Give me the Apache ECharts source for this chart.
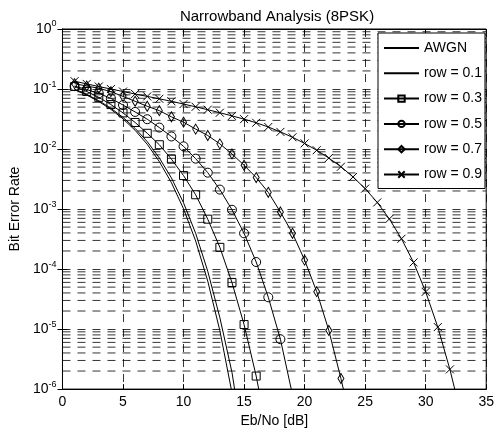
<!DOCTYPE html>
<html><head><meta charset="utf-8">
<script src="https://cdn.jsdelivr.net/npm/echarts@6/dist/echarts.min.js"></script>
<style>html,body{margin:0;padding:0;background:#fff}#c{width:497px;height:433px}</style>
</head><body><div id="c"></div>
<script>
// Eb/No sample points [dB]
const ebNo = [1,2,3,4,5,6,7,8,9,10,11,12,13,14,15,16,17,18,19,20,21,22,23,24,25,26,27,28,29,30,31,32,33];
// X axis ticks and Y axis decade exponents
const xTicks = [0,5,10,15,20,25,30,35];
const yExponents = [0,-1,-2,-3,-4,-5,-6];
// Series names
const seriesNames = ['AWGN','row = 0.1','row = 0.3','row = 0.5','row = 0.7','row = 0.9'];
// Bit error rates
const awgn  = [0.0975,0.0794,0.0619,0.0458,0.0319,0.0205,0.0120,0.00618,0.00275,0.00101,0.000294,6.3e-5,9.4e-6,8.7e-7];
const row01 = [0.099,0.0815,0.064,0.0478,0.0337,0.0221,0.0133,0.0071,0.0033,0.00127,0.000395,9.2e-5,1.55e-5,1.9e-6,1e-7];
const row03 = [0.110,0.0910,0.0726,0.0551,0.0400,0.0277,0.0183,0.0118,0.00678,0.00361,0.00173,0.000678,0.000230,5.96e-5,1.19e-5,1.65e-6,1.5e-7];
const row05 = [0.112,0.0981,0.0844,0.0699,0.0541,0.0415,0.0314,0.0228,0.0162,0.0111,0.00691,0.00404,0.00211,0.000974,0.000394,0.000131,3.39e-5,6.78e-6,8e-7];
const row07 = [0.123,0.112,0.103,0.0903,0.0754,0.0624,0.0516,0.0436,0.0344,0.0280,0.0215,0.0168,0.0122,0.00828,0.00537,0.00335,0.00190,0.000893,0.000394,0.000141,4.2e-5,9.5e-6,1.5e-6,2e-7];
const row09 = [0.135,0.1216,0.110,0.100,0.0908,0.0826,0.0753,0.0687,0.0624,0.0562,0.0505,0.0452,0.0403,0.0357,0.0315,0.0274,0.0233,0.0193,0.0157,0.0124,0.00955,0.00708,0.00507,0.00343,0.00219,0.00129,0.000684,0.00032,0.000129,4.17e-5,1.08e-5,2.13e-6,3.2e-7];

const FONT = 'Liberation Sans, Arial, Helvetica, sans-serif';
const GRID_LINE = {color:'#000', type:[8,7], width:0.8};
function pairs(ys){ return ys.map((y,i)=>[ebNo[i], y]); }

const markerStyle = {color:'transparent', borderColor:'#000', borderWidth:1};
const noMarkerStyle = {color:'transparent', borderColor:'transparent', borderWidth:0};
const lineStyle = {color:'#000', width:1};

function mk(name, ys, symbol, size){
  return {
    name, type:'line', data: pairs(ys),
    symbol: symbol || 'none', symbolSize: size || 4, showSymbol: !!symbol,
    lineStyle, itemStyle: symbol ? markerStyle : noMarkerStyle,
    clip: true, animation:false, z: 3, silent:true
  };
}

const series = [
  mk(seriesNames[0], awgn),
  mk(seriesNames[1], row01),
  mk(seriesNames[2], row03, 'rect', 8),
  mk(seriesNames[3], row05, 'circle', 9),
  mk(seriesNames[4], row07, 'diamond', [6,10]),
  mk(seriesNames[5], row09, 'path://M0,0L10,10M10,0L0,10', 8)
];

// minor horizontal grid lines (2..9 x 10^k), drawn across the x range
const xMin = xTicks[0], xMax = xTicks[xTicks.length-1];
for (let k = 0; k < 6; k++) {
  for (let m = 2; m <= 9; m++) {
    const v = m * Math.pow(10, -(k+1));
    series.push({
      name:'grid'+k+'_'+m, type:'line', data:[[xMin, v],[xMax, v]],
      symbol:'none', lineStyle:GRID_LINE, silent:true, z:1, animation:false
    });
  }
}

const option = {
  backgroundColor:'#fff',
  animation:false,
  title:{text:'Narrowband Analysis (8PSK)', left:272, top:4, textAlign:'center',
    textStyle:{fontFamily:FONT, fontSize:15, fontWeight:'normal', color:'#000'}},
  grid:{left:55, right:8, top:29, bottom:38, show:true, borderColor:'#000', borderWidth:1, backgroundColor:'transparent'},
  legend:{
    orient:'vertical', left:378, top:33, data: seriesNames,
    itemWidth:35, itemHeight:8, itemGap:11.3, padding:[8,3,7,5],
    backgroundColor:'#fff', borderColor:'#000', borderWidth:1,
    textStyle:{fontFamily:FONT, fontSize:14, color:'#000'},
    selectedMode:false, z:10
  },
  xAxis:[{
    type:'value', min:xMin, max:xMax, interval:5,
    name:'Eb/No [dB]', nameLocation:'middle', nameGap:22,
    nameTextStyle:{fontFamily:FONT, fontSize:14, color:'#000'},
    axisLine:{lineStyle:{color:'#000'}},
    axisTick:{inside:true, length:5, lineStyle:{color:'#000'}},
    axisLabel:{fontFamily:FONT, fontSize:14, color:'#000', margin:6},
    splitLine:{show:true, lineStyle:GRID_LINE}
  },{
    type:'value', position:'top', min:xMin, max:xMax, interval:5,
    axisLine:{lineStyle:{color:'#000'}},
    axisTick:{inside:true, length:5, lineStyle:{color:'#000'}},
    axisLabel:{show:false}, splitLine:{show:false}
  }],
  yAxis:[{
    type:'log', logBase:10, min:1e-6, max:1,
    name:'Bit Error Rate', nameLocation:'middle', nameGap:38, nameRotate:90,
    nameTextStyle:{fontFamily:FONT, fontSize:14, color:'#000'},
    axisLine:{lineStyle:{color:'#000'}},
    axisTick:{inside:true, length:5, lineStyle:{color:'#000'}},
    axisLabel:{
      margin:6,
      formatter:(v)=>{ const e = Math.round(Math.log10(v)); return yExponents.includes(e) ? '{b|10}{e|'+e+'}' : ''; },
      rich:{
        b:{fontFamily:FONT, fontSize:14, color:'#000'},
        e:{fontFamily:FONT, fontSize:9, color:'#000', padding:[0,0,10,0]}
      }
    },
    splitLine:{show:true, lineStyle:GRID_LINE}
  },{
    type:'log', logBase:10, min:1e-6, max:1, position:'right',
    axisLine:{lineStyle:{color:'#000'}},
    axisTick:{inside:true, length:5, lineStyle:{color:'#000'}},
    axisLabel:{show:false}, splitLine:{show:false}
  }],
  series
};
const chart = echarts.init(document.getElementById('c'));
chart.setOption(option);
</script></body></html>
